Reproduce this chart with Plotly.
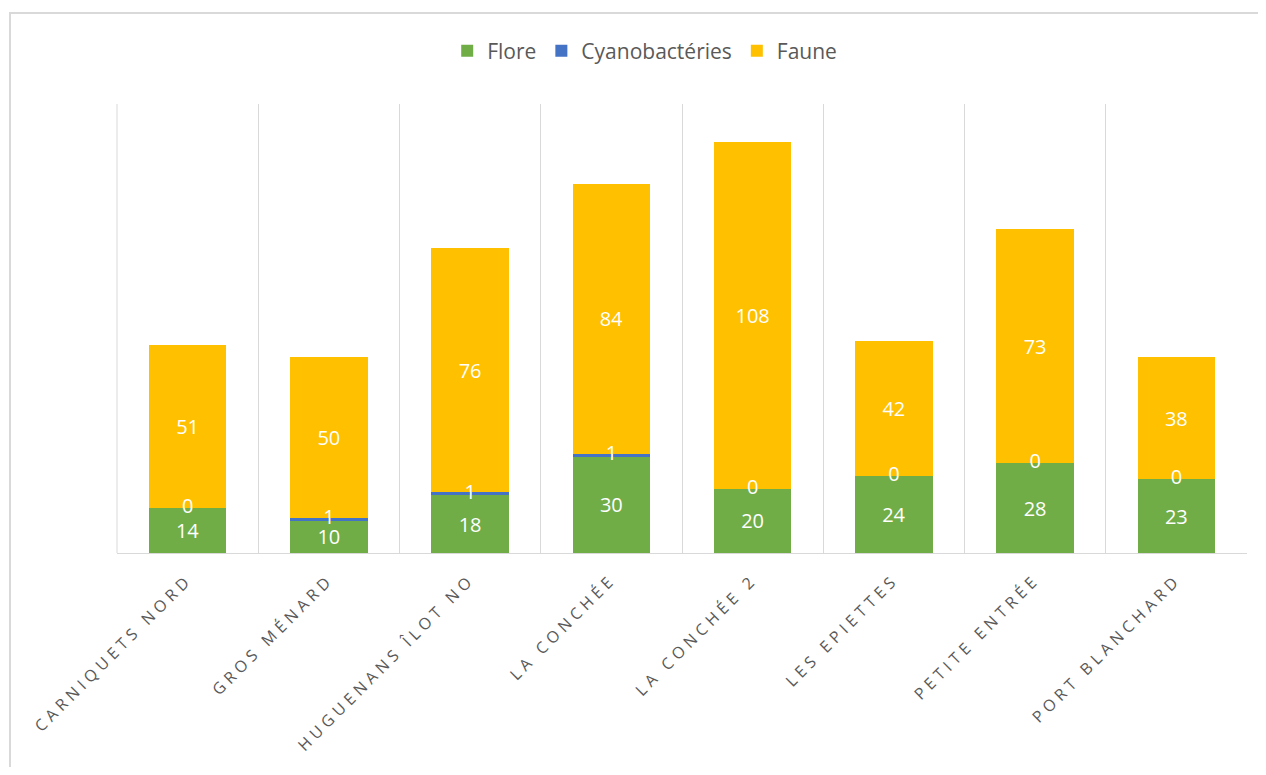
import plotly.graph_objects as go

categories = ["CARNIQUETS NORD", "GROS MÉNARD", "HUGUENANS ÎLOT NO", "LA CONCHÉE",
              "LA CONCHÉE 2", "LES EPIETTES", "PETITE ENTRÉE", "PORT BLANCHARD"]
flore = [14, 10, 18, 30, 20, 24, 28, 23]
cyano = [0, 1, 1, 1, 0, 0, 0, 0]
faune = [51, 50, 76, 84, 108, 42, 73, 38]

GREEN = "#70AD47"
BLUE = "#4472C4"
YELLOW = "#FFC000"
GRID = "#D9D9D9"
LABEL_FONT = dict(family="Open Sans", size=20, color="white")

fig = go.Figure()
fig.add_trace(go.Bar(name="Flore", x=categories, y=flore, marker=dict(color=GREEN, line_width=0),
                     text=flore, textposition="inside", insidetextanchor="middle",
                     textangle=0, textfont=LABEL_FONT, hoverinfo="skip"))
fig.add_trace(go.Bar(name="Cyanobactéries", x=categories, y=cyano, marker=dict(color=BLUE, line_width=0),
                     textposition="none", hoverinfo="skip"))
fig.add_trace(go.Bar(name="Faune", x=categories, y=faune, marker=dict(color=YELLOW, line_width=0),
                     text=faune, textposition="inside", insidetextanchor="middle",
                     textangle=0, textfont=LABEL_FONT, hoverinfo="skip"))
# labels for the thin cyanobacteria segments, placed at their stacked position
fig.add_trace(go.Scatter(x=categories, y=[f + c / 2 for f, c in zip(flore, cyano)],
                         text=[str(c) for c in cyano], mode="text", textfont=LABEL_FONT,
                         textposition="middle center", showlegend=False, hoverinfo="skip"))

fig.update_layout(
    width=1250, height=759,
    margin=dict(l=109, r=11, t=96, b=214),
    barmode="stack", bargap=0.45,
    plot_bgcolor="white", paper_bgcolor="white",
    uniformtext=dict(minsize=20, mode="show"),
    legend=dict(orientation="h", x=0.467, xanchor="center", y=1.118, yanchor="middle",
                font=dict(family="Open Sans", size=21, color="#595959"),
                itemwidth=30, traceorder="normal"),
    xaxis=dict(type="category", tickson="boundaries", showgrid=True, gridcolor=GRID,
               gridwidth=1, showline=True, linecolor=GRID, linewidth=1,
               ticks="", tickangle=-45, ticklabelstandoff=10,
               tickfont=dict(family="Open Sans", size=16, color="#595959")),
    yaxis=dict(range=[0, 140], visible=False, showgrid=False),
    shapes=[
        dict(type="rect", xref="paper", yref="paper", x0=-0.0947, y0=-0.7, x1=1.1, y1=1.2027,
             line=dict(color=GRID, width=2), layer="below"),
        dict(type="line", xref="paper", yref="paper", x0=0, x1=0, y0=0, y1=1,
             line=dict(color=GRID, width=1), layer="below"),
    ],
)

post = """
var gd = document.getElementById('{plot_id}');
function ls(){ gd.querySelectorAll('.xtick text').forEach(function(t){ t.style.letterSpacing='4.5px'; }); }
ls(); gd.on('plotly_afterplot', ls);
"""
fig.write_html("out.html", post_script=post)
